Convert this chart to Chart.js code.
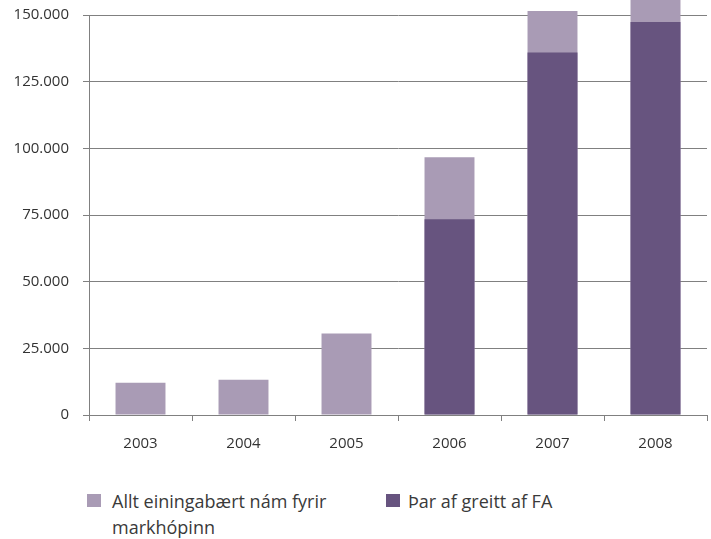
<!DOCTYPE html>
<html>
<head>
<meta charset="utf-8">
<script src="https://cdn.jsdelivr.net/npm/chart.js@4"></script>
<style>
  body { margin: 0; background: #fff; font-family: "Open Sans", sans-serif; }
  #wrap { position: relative; width: 711px; height: 539px; }
  #legend .item { position: absolute; top: 488px; color: #3a3a3a; font-size: 18px; line-height: 26px; }
  #legend .box { position: absolute; left: 0; top: 6px; width: 14px; height: 13px; }
  #legend .text { position: absolute; top: 0; }
</style>
</head>
<body>
<div id="wrap">
  <canvas id="chart" width="711" height="460"></canvas>
  <div id="legend"></div>
</div>
<script>
var years = ['2003', '2004', '2005', '2006', '2007', '2008'];
var totalValues = [12100, 13200, 30600, 96700, 151500, 160000];
var faValues = [0, 0, 0, 73400, 135900, 147400];
var seriesLabels = ['Allt einingabært nám fyrir markhópinn', 'Þar af greitt af FA'];
var seriesColors = ['#a99bb5', '#67547f'];

function dotThousands(v) {
    return String(v).replace(/\B(?=(\d{3})+(?!\d))/g, '.');
}

var ctx = document.getElementById('chart').getContext('2d');
var chart = new Chart(ctx, {
    type: 'bar',
    data: {
        labels: years,
        datasets: [
            {
                label: seriesLabels[0],
                data: totalValues,
                backgroundColor: seriesColors[0],
                grouped: false,
                order: 2,
                clip: false,
                barPercentage: 0.485,
                categoryPercentage: 1
            },
            {
                label: seriesLabels[1],
                data: faValues,
                backgroundColor: seriesColors[1],
                grouped: false,
                order: 1,
                clip: false,
                barPercentage: 0.485,
                categoryPercentage: 1
            }
        ]
    },
    options: {
        responsive: false,
        animation: false,
        layout: { padding: { top: 15, right: 4, left: 0, bottom: 0 } },
        plugins: {
            legend: { display: false },
            tooltip: { enabled: false }
        },
        scales: {
            x: {
                grid: {
                    offset: true,
                    drawOnChartArea: false,
                    drawTicks: true,
                    tickLength: 6,
                    color: '#808080'
                },
                border: { display: false },
                ticks: {
                    color: '#333333',
                    padding: 14,
                    font: { family: 'Open Sans', size: 15 }
                },
                afterFit: function(scale) { scale.height = 45; }
            },
            y: {
                min: 0,
                max: 150000,
                grid: {
                    color: '#808080',
                    lineWidth: 1,
                    tickLength: 6
                },
                border: { display: true, color: '#808080' },
                ticks: {
                    stepSize: 25000,
                    color: '#333333',
                    padding: 14,
                    font: { family: 'Open Sans', size: 15 },
                    callback: function(v) { return dotThousands(v); }
                },
                afterFit: function(scale) {
                    scale.width = 89;
                    scale.paddingTop = 0;
                    scale.paddingBottom = 0;
                }
            }
        }
    }
});

// legend built from the datasets, so the long label can wrap like the original
var legendLeft = [87, 386];
var legendTextGap = [25, 22];
var legendWidth = [250, 250];
var legendEl = document.getElementById('legend');
chart.data.datasets.forEach(function(ds, i) {
    var item = document.createElement('div');
    item.className = 'item';
    item.style.left = legendLeft[i] + 'px';
    item.style.width = legendWidth[i] + 'px';
    var box = document.createElement('span');
    box.className = 'box';
    box.style.background = ds.backgroundColor;
    var txt = document.createElement('span');
    txt.className = 'text';
    txt.style.left = legendTextGap[i] + 'px';
    txt.style.width = (legendWidth[i] - legendTextGap[i]) + 'px';
    txt.textContent = ds.label;
    item.appendChild(box);
    item.appendChild(txt);
    legendEl.appendChild(item);
});
</script>
</body>
</html>
